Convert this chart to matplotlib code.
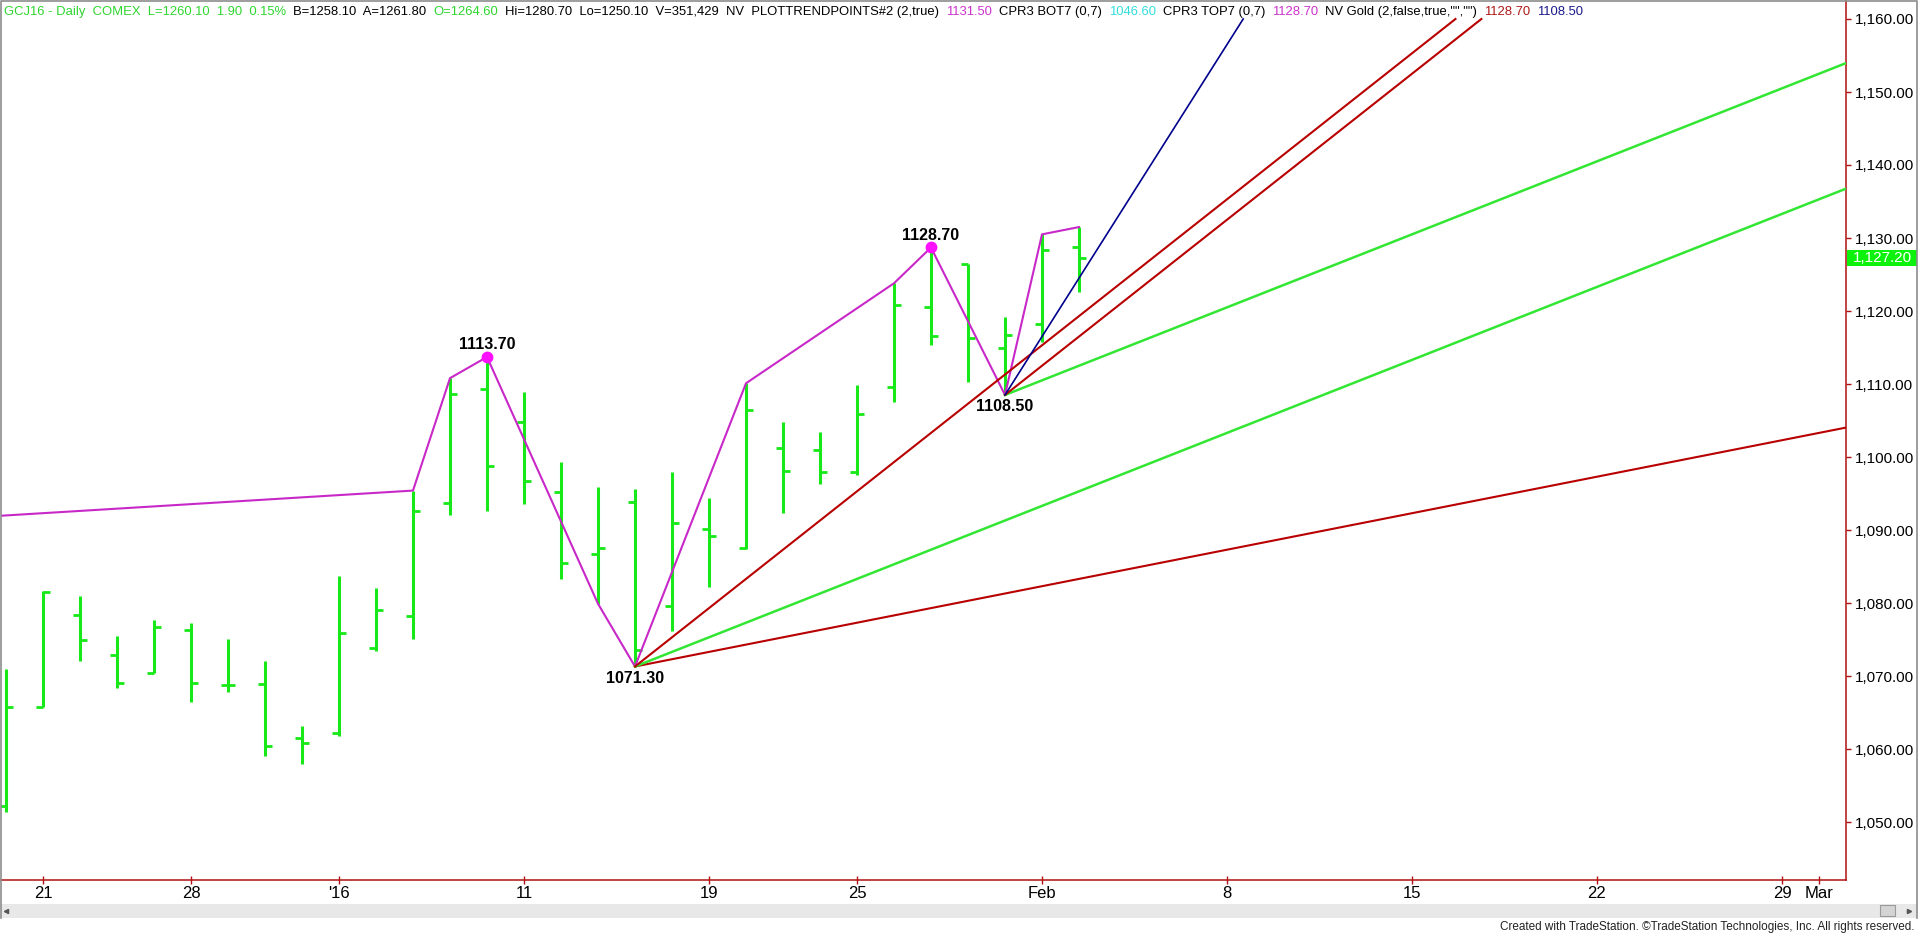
import matplotlib
matplotlib.use("Agg")
import matplotlib.pyplot as plt
import matplotlib.ticker as mticker
import matplotlib.transforms as mtransforms
from matplotlib.lines import Line2D
from matplotlib.patches import Rectangle

W, H = 1920, 934

# ---------- daily bars GCJ16, Dec 18 2015 .. Feb 2 2016 ----------
dates = ["Dec 18", "Dec 21", "Dec 22", "Dec 23", "Dec 24", "Dec 28", "Dec 29", "Dec 30",
         "Dec 31", "Jan 4", "Jan 5", "Jan 6", "Jan 7", "Jan 8", "Jan 11", "Jan 12",
         "Jan 13", "Jan 14", "Jan 15", "Jan 19", "Jan 20", "Jan 21", "Jan 22", "Jan 25",
         "Jan 26", "Jan 27", "Jan 28", "Jan 29", "Feb 1", "Feb 2"]
opens = [1052.2, 1065.8, 1078.4, 1072.9, 1070.4, 1076.3, 1068.8, 1068.9, 1061.5, 1062.2,
         1073.9, 1078.2, 1093.7, 1109.3, 1104.8, 1095.2, 1086.7, 1093.9, 1079.6, 1090.1,
         1087.5, 1101.2, 1101.0, 1098.0, 1109.6, 1120.5, 1126.5, 1114.9, 1118.2, 1128.7]
highs = [1071.0, 1081.7, 1080.9, 1075.5, 1077.7, 1077.2, 1075.1, 1072.0, 1063.1, 1083.7,
         1082.0, 1095.4, 1110.8, 1113.7, 1108.9, 1099.3, 1095.9, 1095.6, 1097.9, 1094.4,
         1110.1, 1104.8, 1103.4, 1109.8, 1123.8, 1128.7, 1126.5, 1119.2, 1130.5, 1131.5]
lows = [1051.4, 1065.8, 1072.0, 1068.3, 1070.4, 1066.5, 1067.8, 1059.0, 1057.9, 1061.8,
        1073.4, 1075.1, 1092.1, 1092.6, 1093.5, 1083.3, 1079.9, 1071.3, 1076.1, 1082.2,
        1087.4, 1092.3, 1096.3, 1097.5, 1107.6, 1115.3, 1110.3, 1108.5, 1115.8, 1122.6]
closes = [1065.8, 1081.5, 1075.0, 1069.0, 1076.7, 1069.0, 1068.8, 1060.4, 1060.8, 1075.9,
          1079.0, 1092.6, 1108.6, 1098.8, 1096.7, 1085.5, 1087.5, 1073.6, 1091.0, 1089.2,
          1106.4, 1098.1, 1098.0, 1105.9, 1120.8, 1116.6, 1116.3, 1116.7, 1128.3, 1127.2]
last_price = 1127.20

# swing line (bar slot, price); first point is an earlier pivot off the left edge
swing_x = [-10, 11, 12, 13, 16, 17, 20, 24, 25, 27, 28, 29]
swing_p = [1088.9, 1095.4, 1110.8, 1113.7, 1079.9, 1071.3, 1110.1, 1123.8, 1128.7, 1108.5, 1130.5, 1131.5]

# labelled pivots
pivot_x = [13, 17, 25, 27]
pivot_p = [1113.7, 1071.3, 1128.7, 1108.5]
pivot_up = [True, False, True, False]
dot_x = [13, 25]
dot_p = [1113.7, 1128.7]

# angle lines from the two lows (points per bar)
fan_x0 = [17, 17, 17, 27, 27, 27]
fan_p0 = [1071.3, 1071.3, 1071.3, 1108.5, 1108.5, 1108.5]
fan_slope = [1, 2, 4, 2, 4, 8]
fan_top = 1160.0

# x axis (slot index incl. future weekdays) and y axis
xtick_pos = [1, 5, 9, 14, 19, 23, 28, 33, 38, 43, 48, 49]
xtick_lab = ["21", "28", "'16", "11", "19", "25", "Feb", "8", "15", "22", "29", "Mar"]
yticks = list(range(1050, 1161, 10))

header = [
    ("GCJ16 - Daily  COMEX  L=1260.10  1.90  0.15%", "#2fd62f"),
    ("B=1258.10  A=1261.80", "black"),
    ("O=1264.60", "#2fd62f"),
    ("Hi=1280.70  Lo=1250.10  V=351,429  NV  PLOTTRENDPOINTS#2 (2,true)", "black"),
    ("1131.50", "#cc33cc"),
    ("CPR3 BOT7 (0,7)", "black"),
    ("1046.60", "#33dddd"),
    ("CPR3 TOP7 (0,7)", "black"),
    ("1128.70", "#cc33cc"),
    ('NV Gold (2,false,true,"","")', "black"),
    ("1128.70", "#b01818"),
    ("1108.50", "#1a1a8c"),
]

# colours
bar_green = "#17e817"
axis_red = "#b01010"
sans = ["Liberation Sans", "DejaVu Sans"]
narrow = ["Liberation Sans Narrow", "Liberation Sans", "DejaVu Sans"]

fig = plt.figure(figsize=(W / 100, H / 100), dpi=100)
fig.patch.set_facecolor("white")

# plot area in pixels: x 1..1846, y 1..880
ax = fig.add_axes([1 / W, (H - 880) / H, 1845 / W, 879 / H])
px_bar = 37.0
xmin = -5 / px_bar
xmax = 1840 / px_bar
ax.set_xlim(xmin, xmax)
ax.set_ylim(1160 - 861 / 7.3, 1160 + 18 / 7.3)

# bars
idx = list(range(len(dates)))
tick_len = 7 / px_bar
ax.vlines(idx, lows, highs, color=bar_green, linewidth=2.2, zorder=2)
ax.hlines(opens, [i - tick_len for i in idx], idx, color=bar_green, linewidth=2.0, zorder=2)
ax.hlines(closes, idx, [i + tick_len for i in idx], color=bar_green, linewidth=2.0, zorder=2)

# swing line and pivots
ax.plot(swing_x, swing_p, color="#c828c8", linewidth=1.5, zorder=3)
ax.plot(dot_x, dot_p, "o", color="#ff10ff", markersize=7.5, zorder=4)
for x, p, up in zip(pivot_x, pivot_p, pivot_up):
    ax.annotate(f"{p:.2f}", (x, p), xytext=(0, 12 if up else -12), textcoords="offset pixels",
                ha="center", va="center", fontsize=11.5, fontweight="bold", family=sans, zorder=5)

# angle lines
fan_style = [("#b80000", 1.5), ("#33e633", 1.8), ("#b80000", 1.5),
             ("#33e633", 1.8), ("#b80000", 1.5), ("#00008c", 1.2)]
for x0, p0, s, (c, lw) in zip(fan_x0, fan_p0, fan_slope, fan_style):
    x1 = min(xmax, x0 + (fan_top - p0) / s)
    ax.plot([x0, x1], [p0, p0 + s * (x1 - x0)], color=c, linewidth=lw, zorder=3)

# axes styling
for sp in ["top", "left"]:
    ax.spines[sp].set_visible(False)
for sp in ["right", "bottom"]:
    ax.spines[sp].set_color(axis_red)
    ax.spines[sp].set_linewidth(1.1)
ax.yaxis.tick_right()
ax.set_yticks(yticks)
ax.yaxis.set_major_formatter(mticker.StrMethodFormatter("{x:,.2f}"))
ax.tick_params(axis="y", direction="out", length=3.6, width=1, color=axis_red, pad=2.6,
               labelsize=11, labelcolor="black")
ax.set_xticks(xtick_pos)
ax.set_xticklabels(xtick_lab, family=narrow)
ax.tick_params(axis="x", direction="inout", length=6, width=1, color=axis_red, pad=1,
               labelsize=12, labelcolor="black")
for lab in ax.get_yticklabels():
    lab.set_family(sans)

# last price box on the axis
btr = mtransforms.blended_transform_factory(fig.transFigure, ax.transData)
box_h = 16 / 7.3
ax.add_patch(Rectangle((1847 / W, last_price - box_h / 2), 70 / W, box_h, transform=btr,
                       facecolor="#0cf20c", edgecolor="none", clip_on=False, zorder=6))
ax.text(1882 / W, last_price, f"{last_price:,.2f}", transform=btr, ha="center", va="center",
        color="white", fontsize=11, family=sans, clip_on=False, zorder=7)

# header line
fig.canvas.draw()
rend = fig.canvas.get_renderer()
hx = 4
for s, c in header:
    t = fig.text(hx / W, 1 - 12 / H, s, color=c, fontsize=9.4, family=sans, ha="left", va="center")
    hx += t.get_window_extent(rend).width + 7

# frame, scrollbar, footer
fig.add_artist(Rectangle((1 / W, (H - 918) / H), 1916 / W, 14 / H, transform=fig.transFigure,
                         facecolor="#e8e8e8", edgecolor="none"))
fig.add_artist(Rectangle((1880 / W, (H - 916) / H), 15 / W, 11 / H, transform=fig.transFigure,
                         facecolor="#d4d4d4", edgecolor="#9a9a9a", linewidth=0.8))
fig.add_artist(Line2D([6 / W], [1 - 911 / H], marker="<", markersize=3, color="#555555",
                      transform=fig.transFigure))
fig.add_artist(Line2D([1909 / W], [1 - 911 / H], marker=">", markersize=3, color="#555555",
                      transform=fig.transFigure))
frame_y = [1 - 918 / H, 1 - 0.5 / H, 1 - 0.5 / H, 1 - 918 / H]
frame_x = [0.5 / W, 0.5 / W, 1917 / W, 1917 / W]
fig.add_artist(Line2D(frame_x, frame_y, color="#8c8c8c", linewidth=1.2, transform=fig.transFigure))
fig.text(1915 / W, 1 - 927 / H,
         "Created with TradeStation. \u00a9TradeStation Technologies, Inc. All rights reserved.",
         ha="right", va="center", fontsize=8.5, color="#222222", family=narrow)

fig.savefig("out.png", dpi=100, facecolor="white")
